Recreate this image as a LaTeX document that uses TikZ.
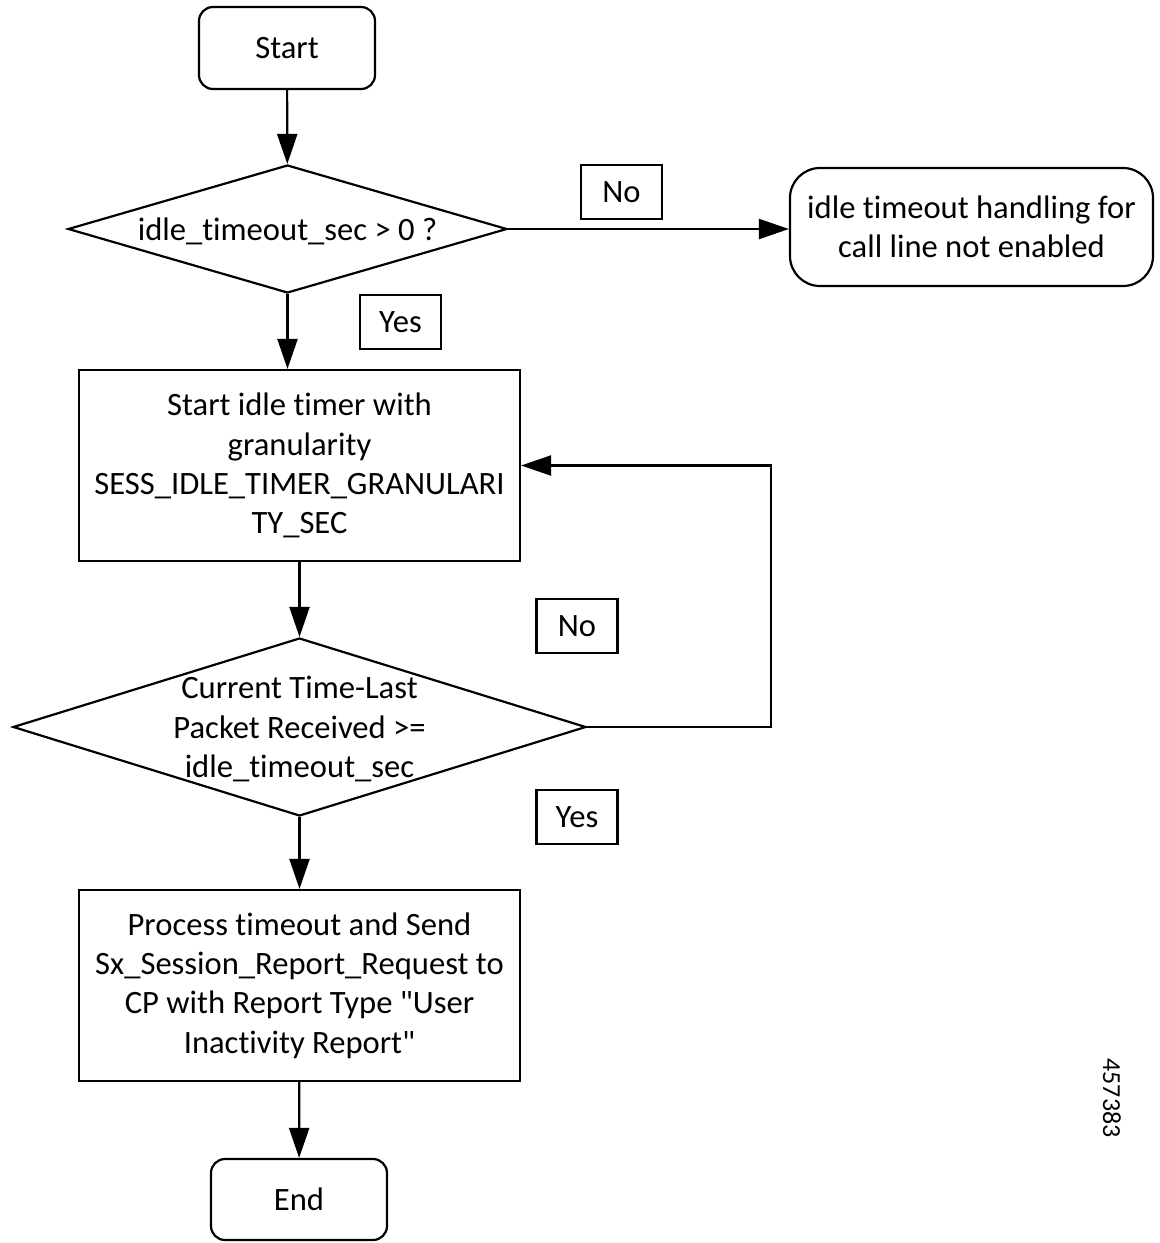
\documentclass[tikz,border=0pt]{standalone}
\usepackage{fontspec}
\setmainfont{Carlito}[Ligatures={TeX,NoCommon}]
\usetikzlibrary{shapes.geometric,arrows.meta}
\newlength{\du}
\setlength{\du}{0.5pt}
\definecolor{dialinecolor}{rgb}{0.000000, 0.000000, 0.000000}

\begin{document}
\begin{tikzpicture}[yscale=-1,line width=2.2\du,
  every node/.style={font=\fontsize{16.3}{19.6}\selectfont,color=dialinecolor},
  terminal/.style={draw,rounded corners=14\du,minimum width=176\du,minimum height=82\du,inner sep=0pt},
  process/.style={draw,minimum width=441\du,minimum height=191\du,inner sep=0pt,align=center},
  decision/.style={draw,diamond,inner sep=0pt},
  answer/.style={draw,minimum width=81\du,minimum height=54\du,inner sep=0pt},
  flow/.style={draw=dialinecolor,-{Triangle[length=15pt,width=10pt]}}]
\useasboundingbox (0\du,0\du) rectangle (1160\du,1243\du);
% setfont left to latex
\node[terminal] (start) at (287\du,48\du) {Start};
\node[decision,minimum width=439\du,minimum height=128\du] (test1) at (287.5\du,229\du) {};
\node[inner sep=0pt] (test1txt) at (287.5\du,231\du) {idle\_timeout\_sec > 0 ?};
\node[terminal,rounded corners=30\du,minimum width=363\du,minimum height=118\du,align=center] (off) at (971.5\du,227\du) {idle timeout handling for\\call line not enabled};
\node[process] (timer) at (299.5\du,465.5\du) {Start idle timer with\\granularity\\SESS\_IDLE\_TIMER\_GRANULARI\\TY\_SEC};
\node[decision,minimum width=573\du,minimum height=178\du] (test2) at (299.5\du,727\du) {};
\node[inner sep=0pt,align=center] (test2txt) at (299.5\du,729\du) {Current Time-Last\\Packet Received >=\\idle\_timeout\_sec};
\node[process] (report) at (299.5\du,985.5\du) {Process timeout and Send\\Sx\_Session\_Report\_Request to\\CP with Report Type \textquotedbl User\\Inactivity Report\textquotedbl};
\node[terminal,minimum height=81\du] (finish) at (299\du,1199.5\du) {End};
% answers
\node[answer] (no1) at (621.5\du,192\du) {No};
\node[answer] (yes1) at (400.5\du,322\du) {Yes};
\node[answer] (no2) at (577\du,626\du) {No};
\node[answer] (yes2) at (577\du,817\du) {Yes};
\node[rotate=-90,font=\fontsize{13}{15}\selectfont] (figno) at (1112\du,1098\du) {457383};
% was here!!!
\coordinate (loop) at (771\du,465.5\du);
\draw[flow] (start) -- (test1);
\draw[flow] (test1.east) -- (test1.east -| off.west);
\draw[flow] (test1.south) -- (test1.south |- timer.north);
\draw[flow] (timer) -- (test2);
\draw[flow] (test2.east) -| (loop) -- (timer.east);
\draw[flow] (test2) -- (report);
\draw[flow] (report) -- (finish);
\end{tikzpicture}
\end{document}
